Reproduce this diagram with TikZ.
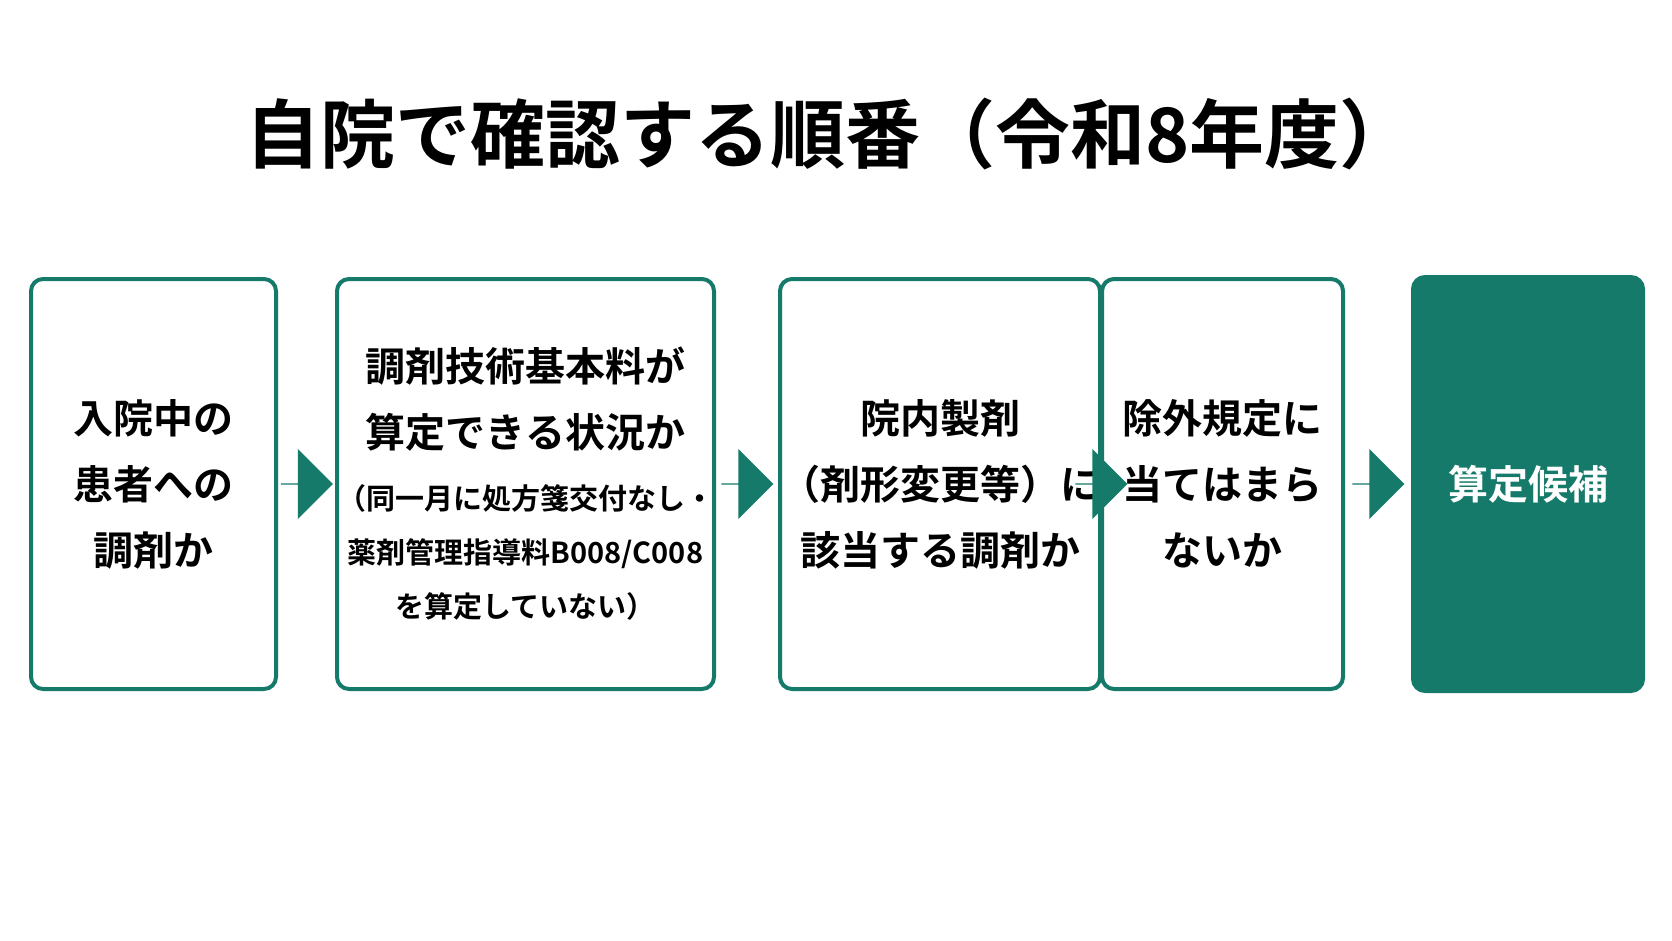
\documentclass[tikz,border=0pt]{standalone}
\usepackage{fontspec}
\setmainfont{Noto Sans CJK JP}[BoldFont={* Bold}]
\usepackage{tikz}
\usetikzlibrary{arrows.meta,positioning,calc,shapes.arrows}
\definecolor{teal}{HTML}{157A6A}
\newcommand{\smalltxt}{\fontsize{29}{52}\selectfont}
\begin{document}
\begin{tikzpicture}[
  x=1pt,y=-1pt,
  stage/.style={draw=teal,line width=4pt,rounded corners=12pt,align=center,
    minimum height=410pt,inner sep=0pt,font=\fontsize{40}{66}\selectfont\bfseries},
  goal/.style={stage,fill=teal,text=white},
  arr/.style={single arrow,fill=teal,draw=none,minimum height=52pt,
    single arrow head extend=10pt,minimum width=70pt,inner sep=0pt}
]
\useasboundingbox (0,0) rectangle (1672,941);
\node[font=\fontsize{75}{80}\selectfont\bfseries] (title) at (830,134) {自院で確認する順番（令和8年度）};
\node[stage,minimum width=245pt,anchor=west] (inpat) at (29,484) {入院中の\\患者への\\調剤か};
\node[stage,minimum width=375pt,anchor=west] (basic) at (335,484)
  {調剤技術基本料が\\算定できる状況か\\[-4pt]
   \smalltxt（同一月に処方箋交付なし・\\[-12pt]
   \smalltxt 薬剤管理指導料B008/C008\\[-12pt]
   \smalltxt を算定していない）};
\node[stage,minimum width=255pt,anchor=west] (inhouse) at (778,484) {院内製剤\\（剤形変更等）に\\該当する調剤か};
\node[stage,minimum width=241pt,anchor=west] (excl) at (1100,484) {除外規定に\\当てはまら\\ないか};
\node[goal,minimum width=230pt,minimum height=414pt,anchor=west] (cand) at (1411,484) {算定候補};
\node[arr] at ($(inpat.east)!0.5!(basic.west)$) {};
\node[arr] at ($(basic.east)!0.5!(inhouse.west)$) {};
\node[arr] at ($(inhouse.east)!0.5!(excl.west)$) {};
\node[arr] at ($(excl.east)!0.5!(cand.west)$) {};
\end{tikzpicture}
\end{document}
